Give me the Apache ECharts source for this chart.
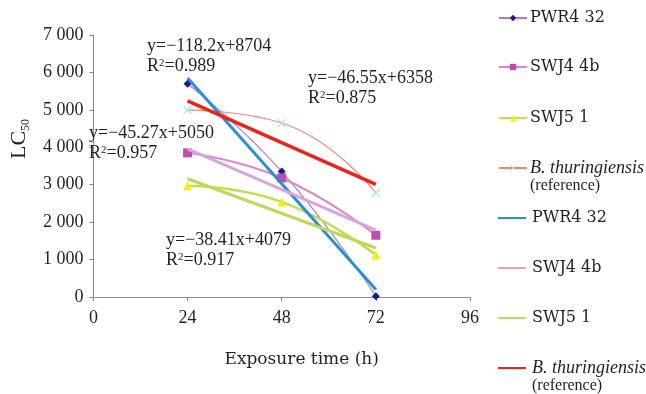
<!DOCTYPE html>
<html>
<head>
<meta charset="utf-8">
<script src="https://cdn.jsdelivr.net/npm/echarts@6/dist/echarts.min.js"></script>
<style>
  html, body { margin: 0; padding: 0; background: #fff; }
  #chart { width: 646px; height: 394px; }
</style>
</head>
<body>
<div id="chart"></div>
<script>
// exposure times (h) and LC50 readings
const times = [24, 48, 72];
const pwr432 = [5700, 3350, 20];
const swj44b = [3850, 3180, 1650];
const swj51 = [2970, 2540, 1120];
const btRef = [5000, 4650, 2780];

// linear trend lines, ends
const trendTimes = [24, 72];
const pwr432Trend = [5850, 200];
const swj44bTrend = [3960, 1790];
const swj51Trend = [3160, 1310];
const btRefTrend = [5240, 3010];

const equations = ["y=\u2212118.2x+8704", "y=\u221246.55x+6358", "y=\u221245.27x+5050", "y=\u221238.41x+4079"];
const rSquared = ["0.989", "0.875", "0.957", "0.917"];

const xTicks = ["0", "24", "48", "72", "96"];
const yTicks = ["0", "1 000", "2 000", "3 000", "4 000", "5 000", "6 000", "7 000"];

const seriesNames = ["PWR4 32", "SWJ4 4b", "SWJ5 1", "B. thuringiensis (reference)"];

const textColor = "#231f20";
const serif = "Liberation Serif";

const toPoints = (xs, ys) => xs.map((x, i) => [x, ys[i]]);

const chart = echarts.init(document.getElementById("chart"));

const dataSeries = [
  { values: pwr432, line: "#b57ab8", width: 1.2, symbol: "diamond", size: 8, mark: "#1c1c88" },
  { values: swj44b, line: "#dc86cf", width: 2, symbol: "rect", size: 9, mark: "#c04cb0" },
  { values: swj51, line: "#c4dc50", width: 2.5, symbol: "triangle", size: 9, mark: "#f2ee10" },
  { values: btRef, line: "#ee8474", width: 1.2, symbol: "path://M0,1 L1,0 L5,4 L9,0 L10,1 L6,5 L10,9 L9,10 L5,6 L1,10 L0,9 L4,5 Z", size: 9, mark: "#a8e2e6" }
].map((s, i) => ({
  name: seriesNames[i],
  type: "line",
  data: toPoints(times, s.values),
  smooth: 0.5,
  symbol: s.symbol,
  symbolSize: s.size,
  showSymbol: true,
  lineStyle: { width: s.width, color: s.line },
  itemStyle: { color: s.mark },
  z: 3
}));

const trendSeries = [
  { values: pwr432Trend, color: "#2b8fd4", width: 3 },
  { values: swj44bTrend, color: "#d9a4dc", width: 3 },
  { values: swj51Trend, color: "#bed85a", width: 3 },
  { values: btRefTrend, color: "#e8261c", width: 3.5 }
].map((s, i) => ({
  name: seriesNames[i] + "#trend",
  type: "line",
  data: toPoints(trendTimes, s.values),
  symbol: "none",
  lineStyle: { width: s.width, color: s.color },
  itemStyle: { color: s.color },
  z: 4
}));

const legendNames = [...seriesNames, ...seriesNames.map(n => n + "#trend")];
const legendIconY = [18, 67, 118, 168, 218, 268, 318, 368];

const legends = legendNames.map((name, i) => {
  const twoLine = name.startsWith("B.");
  const trend = name.endsWith("#trend");
  return {
    data: [trend ? { name, icon: "rect" } : name],
    left: 498,
    top: legendIconY[i] - (twoLine ? 27 : 10),
    padding: 0,
    itemWidth: 28,
    itemHeight: trend ? 2 : 8,
    itemGap: 0,
    selectedMode: false,
    formatter: n => n.startsWith("B.")
      ? "{e| }\n{i|B. thuringiensis}\n{r|(reference)}"
      : n.replace("#trend", ""),
    textStyle: {
      fontFamily: "DejaVu Serif",
      fontSize: 16,
      lineHeight: 20,
      color: textColor,
      padding: [0, 0, 0, trend ? 1 : -2],
      rich: {
        e: { fontSize: 10, lineHeight: 18 },
        i: { fontFamily: serif, fontStyle: "italic", fontSize: 18, lineHeight: 18, color: textColor },
        r: { fontFamily: serif, fontSize: 16, lineHeight: 18, color: textColor }
      }
    }
  };
});

const eqPos = [[147, 36], [308, 68], [89, 123], [166, 230]];
const eqLabels = equations.map((eq, i) => ({
  type: "text",
  x: eqPos[i][0],
  y: eqPos[i][1],
  z: 10,
  style: {
    text: "{n|" + eq + "}\n{n|R}{s|2}{n|=" + rSquared[i] + "}",
    fill: textColor,
    rich: {
      n: { fontFamily: serif, fontSize: 18, lineHeight: 20, color: textColor },
      s: { fontFamily: serif, fontSize: 11, lineHeight: 20, verticalAlign: "top", padding: [2, 0, 0, 0], color: textColor }
    }
  }
}));

const option = {
  animation: false,
  backgroundColor: "#fff",
  grid: { left: 85, right: 176, top: 35, bottom: 97, containLabel: false },
  legend: legends,
  xAxis: {
    type: "value",
    min: 0,
    max: 96,
    interval: 24,
    name: "Exposure time (h)",
    nameLocation: "middle",
    nameGap: 54,
    nameTextStyle: { fontFamily: "DejaVu Serif", fontSize: 17, color: textColor, padding: [0, 0, 0, 40] },
    axisLine: { lineStyle: { color: "#8a8a8a", width: 1 } },
    axisTick: { length: 4, lineStyle: { color: "#8a8a8a" } },
    axisLabel: {
      margin: 12,
      fontFamily: serif,
      fontSize: 18,
      color: textColor,
      formatter: v => xTicks[Math.round(v / 24)]
    },
    splitLine: { show: false }
  },
  yAxis: {
    type: "value",
    min: 0,
    max: 7000,
    interval: 1000,
    name: "{a|LC}{b|50}",
    nameLocation: "middle",
    nameRotate: 90,
    nameGap: 56,
    nameTextStyle: {
      padding: [0, 0, 0, 54],
      rich: {
        a: { fontFamily: serif, fontSize: 22, lineHeight: 26, color: textColor },
        b: { fontFamily: serif, fontSize: 12, lineHeight: 26, verticalAlign: "bottom", color: textColor }
      }
    },
    axisLine: { show: true, lineStyle: { color: "#8a8a8a", width: 1 } },
    axisTick: { show: true, length: 4, lineStyle: { color: "#8a8a8a" } },
    axisLabel: {
      margin: 10,
      fontFamily: serif,
      fontSize: 18,
      color: textColor,
      formatter: v => yTicks[Math.round(v / 1000)]
    },
    splitLine: { show: false }
  },
  graphic: eqLabels,
  series: [...dataSeries, ...trendSeries]
};

chart.setOption(option);
</script>
</body>
</html>
